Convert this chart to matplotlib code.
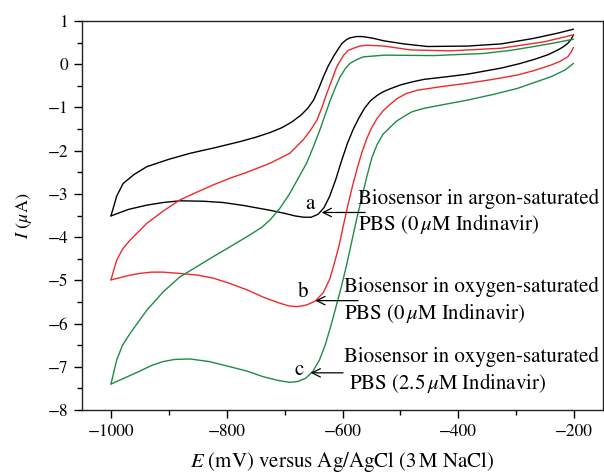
import matplotlib
matplotlib.use("Agg")
import matplotlib.pyplot as plt
from matplotlib.ticker import MultipleLocator

# ---------------- data ----------------
# curve a: argon-saturated PBS, 0 uM Indinavir (black)
a_fwd_E = [-1000, -990, -979, -960, -938, -900, -863, -820, -777, -750, -725, -705, -688, -672, -660, -650, -641, -633, -625, -616, -608, -601, -593, -587, -576, -566, -556, -547, -528, -494, -453, -384, -326, -269, -228, -201]
a_fwd_I = [-3.51, -3.05, -2.76, -2.55, -2.37, -2.20, -2.06, -1.93, -1.79, -1.69, -1.58, -1.47, -1.34, -1.18, -1.02, -0.83, -0.56, -0.29, -0.05, 0.17, 0.34, 0.48, 0.57, 0.61, 0.64, 0.64, 0.62, 0.60, 0.54, 0.47, 0.41, 0.42, 0.47, 0.60, 0.72, 0.81]
a_rev_E = [-201, -205, -211, -220, -228, -245, -269, -295, -326, -355, -384, -420, -459, -480, -500, -518, -530, -540, -552, -562, -572, -582, -592, -602, -612, -622, -632, -642, -654, -667, -682, -700, -725, -770, -806, -840, -881, -910, -938, -970, -1000]
a_rev_I = [0.68, 0.58, 0.48, 0.39, 0.33, 0.22, 0.11, 0.01, -0.09, -0.16, -0.23, -0.29, -0.35, -0.41, -0.48, -0.57, -0.64, -0.72, -0.85, -1.02, -1.25, -1.52, -1.85, -2.25, -2.68, -3.05, -3.32, -3.47, -3.54, -3.54, -3.51, -3.45, -3.38, -3.27, -3.20, -3.17, -3.16, -3.20, -3.26, -3.36, -3.51]

# curve b: oxygen-saturated PBS, 0 uM Indinavir (red)
b_fwd_E = [-1000, -990, -980, -967, -938, -910, -881, -850, -823, -795, -765, -725, -691, -668, -655, -644, -635, -627, -618, -610, -598, -590, -581, -570, -558, -528, -482, -413, -326, -251, -201]
b_fwd_I = [-4.99, -4.53, -4.28, -4.07, -3.68, -3.40, -3.14, -2.95, -2.79, -2.64, -2.50, -2.29, -2.06, -1.75, -1.52, -1.29, -0.98, -0.67, -0.35, -0.06, 0.21, 0.32, 0.37, 0.42, 0.44, 0.42, 0.33, 0.31, 0.37, 0.52, 0.68]
b_rev_E = [-201, -205, -211, -225, -240, -270, -298, -340, -384, -430, -470, -490, -505, -518, -530, -541, -550, -558, -566, -574, -582, -590, -598, -606, -614, -622, -633, -647, -662, -679, -693, -708, -735, -765, -795, -823, -850, -881, -910, -930, -950, -967, -985, -1000]
b_rev_I = [0.39, 0.28, 0.17, 0.06, -0.02, -0.15, -0.25, -0.35, -0.44, -0.52, -0.60, -0.68, -0.79, -0.93, -1.08, -1.27, -1.48, -1.72, -2.02, -2.38, -2.78, -3.22, -3.70, -4.20, -4.60, -4.97, -5.28, -5.48, -5.57, -5.61, -5.59, -5.53, -5.40, -5.22, -5.07, -4.95, -4.88, -4.84, -4.81, -4.81, -4.84, -4.88, -4.94, -4.99]

# curve c: oxygen-saturated PBS, 2.5 uM Indinavir (green)
c_fwd_E = [-1000, -990, -980, -967, -938, -910, -881, -850, -823, -795, -765, -740, -725, -708, -691, -677, -662, -650, -639, -630, -621, -612, -604, -595, -587, -575, -564, -528, -442, -355, -310, -269, -235, -201]
c_fwd_I = [-7.40, -6.84, -6.50, -6.23, -5.69, -5.27, -4.92, -4.67, -4.45, -4.23, -3.99, -3.78, -3.60, -3.33, -2.99, -2.65, -2.29, -1.90, -1.52, -1.17, -0.83, -0.53, -0.29, -0.10, 0.02, 0.11, 0.17, 0.21, 0.20, 0.25, 0.32, 0.41, 0.49, 0.58]
c_rev_E = [-201, -215, -240, -270, -298, -340, -384, -420, -459, -480, -494, -507, -517, -530, -540, -549, -558, -566, -575, -584, -593, -602, -611, -620, -630, -640, -651, -663, -677, -691, -710, -737, -765, -794, -830, -863, -890, -910, -930, -950, -975, -1000]
c_rev_I = [0.02, -0.13, -0.29, -0.43, -0.56, -0.70, -0.83, -0.92, -1.02, -1.10, -1.21, -1.32, -1.45, -1.62, -1.85, -2.15, -2.60, -3.05, -3.55, -4.10, -4.65, -5.15, -5.60, -6.05, -6.50, -6.85, -7.10, -7.26, -7.34, -7.36, -7.32, -7.23, -7.10, -7.00, -6.88, -6.82, -6.83, -6.88, -6.97, -7.10, -7.25, -7.40]

curve_letters = ["a", "b", "c"]
curve_texts = ["Biosensor in argon-saturated\nPBS (0$\\,\\mu$M Indinavir)",
               "Biosensor in oxygen-saturated\nPBS (0$\\,\\mu$M Indinavir)",
               "Biosensor in oxygen-saturated\n PBS (2.5$\\,\\mu$M Indinavir)"]
colors = ["#000000", "#ee2a2a", "#1e8c46"]

x_ticks = [-1000, -800, -600, -400, -200]
y_ticks = [-8, -7, -6, -5, -4, -3, -2, -1, 0, 1]

# ---------------- figure ----------------
plt.rcParams["font.family"] = ["STIXGeneral", "DejaVu Serif"]
plt.rcParams["mathtext.fontset"] = "stix"

fig = plt.figure(figsize=(6.04, 4.76), dpi=100)
ax = fig.add_axes([82 / 604, 1 - 410 / 476, (603 - 82) / 604, (410 - 21) / 476])

branches = [(a_fwd_E, a_fwd_I, a_rev_E, a_rev_I),
            (b_fwd_E, b_fwd_I, b_rev_E, b_rev_I),
            (c_fwd_E, c_fwd_I, c_rev_E, c_rev_I)]
for (fE, fI, rE, rI), col in zip(branches, colors):
    ax.plot(fE, fI, color=col, lw=1.0, solid_joinstyle="round", solid_capstyle="round")
    ax.plot(rE, rI, color=col, lw=1.0, solid_joinstyle="round", solid_capstyle="round")

ax.set_xlim(-1050, -150)
ax.set_ylim(-8, 1)
ax.set_xticks(x_ticks)
ax.set_yticks(y_ticks)
ax.xaxis.set_minor_locator(MultipleLocator(100))
ax.yaxis.set_minor_locator(MultipleLocator(0.5))
ax.set_xticklabels(["\u2212" + str(abs(v)) for v in x_ticks])
ax.set_yticklabels([("\u2212" + str(abs(v))) if v < 0 else str(v) for v in y_ticks])
ax.tick_params(axis="both", which="major", direction="out", length=6, width=1,
               labelsize=12.5, pad=4, colors="black")
ax.tick_params(axis="both", which="minor", direction="out", length=3.5, width=1)
ax.tick_params(top=False, right=False, which="both")
for s in ax.spines.values():
    s.set_linewidth(1.0)
    s.set_color("#222222")

ax.set_xlabel("$E$ (mV) versus Ag/AgCl (3$\\,$M NaCl)", fontsize=15, labelpad=7)
ax.set_ylabel("$I$ ($\\mu$A)", fontsize=13, labelpad=10)

# annotations: letter, arrow tip, arrow tail, text position (data coords)
letter_pos = [(-656, -3.24), (-668, -5.28), (-675, -7.07)]
arrow_tip = [(-636, -3.43), (-647, -5.47), (-655, -7.14)]
arrow_tail = [(-561, -3.43), (-573, -5.47), (-599, -7.14)]
text_pos = [(-573, -3.43), (-597, -5.47), (-597, -7.09)]

for k in range(3):
    ax.text(*letter_pos[k], curve_letters[k], fontsize=15, ha="center", va="center")
    ax.annotate("", xy=arrow_tip[k], xytext=arrow_tail[k],
                arrowprops=dict(arrowstyle="->", lw=0.9, color="black",
                                mutation_scale=15, shrinkA=0, shrinkB=0))
    ax.text(*text_pos[k], curve_texts[k], fontsize=15, ha="left", va="center",
            linespacing=1.2)

fig.savefig("out.png", dpi=100)
